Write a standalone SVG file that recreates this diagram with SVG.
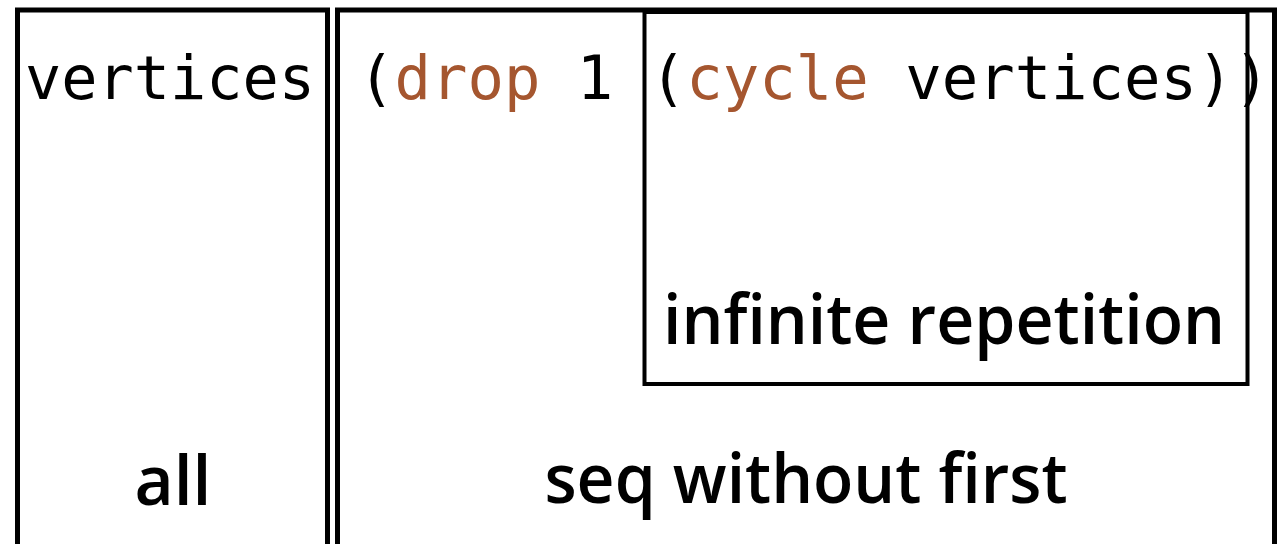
<svg xmlns="http://www.w3.org/2000/svg" width="1278" height="544" viewBox="0 0 1278 544">
<style>
.box{fill:none;stroke:#000;stroke-width:5}
.inner{fill:none;stroke:#000;stroke-width:4}
.code{font-family:"DejaVu Sans Mono","Liberation Mono",monospace;font-size:61px;fill:#000}
.kw{fill:#a5562f}
.lbl{font-family:"Open Sans","Noto Sans","Liberation Sans",sans-serif;font-weight:600;font-size:68px;fill:#000;text-anchor:middle}
</style>
<rect width="1278" height="544" fill="#fff"/>
<g id="node-all">
<rect class="box" x="17.5" y="10" width="310" height="537"/>
<text class="code" x="25" y="99" textLength="290" lengthAdjust="spacingAndGlyphs">vertices</text>
<text class="lbl" x="173" y="505" textLength="77" lengthAdjust="spacingAndGlyphs">all</text>
</g>
<g id="node-seq">
<rect class="box" x="337.5" y="10" width="937" height="537"/>
<text class="code" x="358" y="99" textLength="912" lengthAdjust="spacingAndGlyphs">(<tspan class="kw">drop</tspan> 1 (<tspan class="kw">cycle</tspan> vertices))</text>
<text class="lbl" x="806" y="503" textLength="523" lengthAdjust="spacingAndGlyphs">seq without first</text>
</g>
<g id="node-cycle">
<rect class="inner" x="644.5" y="12" width="603" height="372"/>
<text class="lbl" x="944" y="344" textLength="562" lengthAdjust="spacingAndGlyphs">infinite repetition</text>
</g>
<g id="connectors"></g>
</svg>
